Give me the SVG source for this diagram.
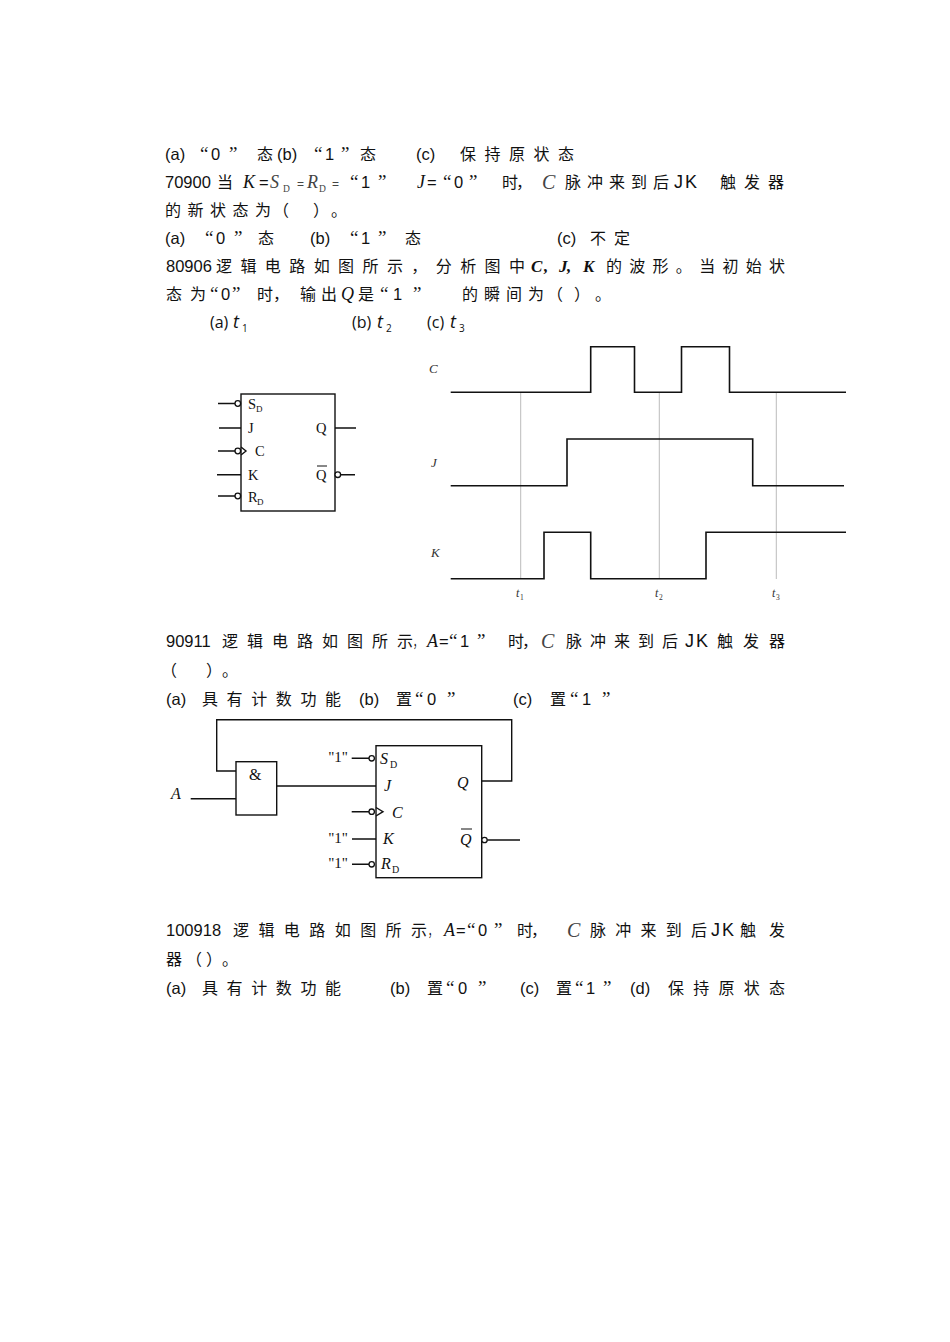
<svg xmlns="http://www.w3.org/2000/svg" width="950" height="1342" viewBox="0 0 950 1342">
<style>
.t{font-family:"Liberation Sans","Noto Sans CJK SC",sans-serif;font-size:16.5px;fill:#111}
.qq{font-family:"Liberation Serif",serif;font-size:19px}
.c{font-family:"Noto Sans CJK SC","Liberation Sans",sans-serif;font-size:16px;fill:#111}
.v{font-family:"Liberation Serif","Noto Sans CJK SC",serif;font-style:italic;font-size:18px;fill:#111}
.g{fill:#444}
.sub{font-family:"Liberation Serif",serif;font-size:9.5px;fill:#444}
.o{font-family:"Open Sans","Liberation Sans",sans-serif;font-size:16px;fill:#111}
.ot{font-family:"Open Sans","Liberation Sans",sans-serif;font-style:italic;font-size:18px;fill:#111}
.os{font-family:"Open Sans","Liberation Sans",sans-serif;font-size:10px;fill:#111}
.lab{font-family:"Liberation Serif",serif;font-size:14.5px;fill:#111}
.lab2{font-family:"Liberation Serif",serif;font-style:italic;font-size:16px;fill:#111}
.ls{font-family:"Liberation Serif",serif;font-size:9px;fill:#111}
.wl{font-family:"Liberation Serif",serif;font-style:italic;font-size:13px;fill:#333}
.tl{font-family:"Liberation Serif",serif;font-style:italic;font-size:12px;fill:#333}
.tls{font-family:"Liberation Serif",serif;font-size:7.5px;fill:#333}
.ln{fill:none;stroke:#111;stroke-width:1.4}
.wave{fill:none;stroke:#111;stroke-width:1.6}
.grid{fill:none;stroke:#aaa;stroke-width:0.8}
.bub{fill:#fff;stroke:#111;stroke-width:1.3}
</style>

<g id="text">
<!-- line 1 -->
<text class="t" x="165" y="160">(a)</text>
<text class="t" y="160"><tspan class="qq" x="200">“</tspan><tspan x="211">0</tspan><tspan class="qq" x="229">”</tspan></text>
<text class="c" x="257" y="160">态</text>
<text class="t" x="277" y="160">(b)</text>
<text class="t" y="160"><tspan class="qq" x="314">“</tspan><tspan x="325">1</tspan><tspan class="qq" x="341">”</tspan></text>
<text class="c" x="360" y="160">态</text>
<text class="t" x="416" y="160">(c)</text>
<text class="c" x="460" y="160" textLength="114" lengthAdjust="spacing">保持原状态</text>
<!-- line 2 -->
<text class="t" x="165" y="188">70900</text>
<text class="c" x="217" y="188">当</text>
<text class="v" x="243" y="188">K</text>
<text class="t" x="259" y="188">=</text>
<text class="v g" x="270" y="188">S</text>
<text class="sub" x="283" y="192">D</text>
<text class="t g" x="297" y="188" style="font-size:12px">=</text>
<text class="v g" x="307" y="188">R</text>
<text class="sub" x="319" y="192">D</text>
<text class="t g" x="332" y="188" style="font-size:12px">=</text>
<text class="t" y="188"><tspan class="qq" x="350">“</tspan><tspan x="361">1</tspan><tspan class="qq" x="378">”</tspan></text>
<text class="v" x="417" y="188">J</text>
<text class="t" x="427" y="188">=</text>
<text class="t" y="188"><tspan class="qq" x="443">“</tspan><tspan x="454">0</tspan><tspan class="qq" x="469">”</tspan></text>
<text class="c" x="502" y="188" textLength="30" lengthAdjust="spacing">时，</text>
<text class="v g" x="542" y="189" style="font-size:20px">C</text>
<text class="c" x="565" y="188" textLength="104" lengthAdjust="spacing">脉冲来到后</text>
<text class="t" x="674 685" y="188" style="font-size:18px">JK</text>
<text class="c" x="720" y="188" textLength="64" lengthAdjust="spacing">触发器</text>
<!-- line 3 -->
<text class="c" x="165" y="216" textLength="106" lengthAdjust="spacing">的新状态为</text>
<text class="c" x="273" y="216">（</text>
<text class="c" x="313" y="216">）</text>
<text class="c" x="331" y="216">。</text>
<!-- line 4 -->
<text class="t" x="165" y="244">(a)</text>
<text class="t" y="244"><tspan class="qq" x="205">“</tspan><tspan x="216">0</tspan><tspan class="qq" x="234">”</tspan></text>
<text class="c" x="258" y="244">态</text>
<text class="t" x="310" y="244">(b)</text>
<text class="t" y="244"><tspan class="qq" x="350">“</tspan><tspan x="361">1</tspan><tspan class="qq" x="378">”</tspan></text>
<text class="c" x="405" y="244">态</text>
<text class="t" x="557" y="244">(c)</text>
<text class="c" x="590" y="244" textLength="40" lengthAdjust="spacing">不定</text>
<!-- line 5 -->
<text class="t" x="166" y="272">80906</text>
<text class="c" x="216" y="272" textLength="309" lengthAdjust="spacing">逻辑电路如图所示，分析图中</text>
<text class="v" x="531 544 559 567 583" y="272" style="font-weight:bold;font-size:17px">C,J,K</text>
<text class="c" x="606" y="272" textLength="179" lengthAdjust="spacing">的波形。当初始状</text>
<!-- line 6 -->
<text class="c" x="166" y="300" textLength="40" lengthAdjust="spacing">态为</text>
<text class="t" y="300"><tspan class="qq" x="210">“</tspan><tspan x="221">0</tspan><tspan class="qq" x="232">”</tspan></text>
<text class="c" x="257" y="300" textLength="32" lengthAdjust="spacing">时，</text>
<text class="c" x="300" y="300" textLength="37" lengthAdjust="spacing">输出</text>
<text class="v" x="341" y="300">Q</text>
<text class="c" x="358" y="300">是</text>
<text class="t" y="300"><tspan class="qq" x="380">“</tspan><tspan x="393">1</tspan><tspan class="qq" x="413">”</tspan></text>
<text class="c" x="462" y="300" textLength="82" lengthAdjust="spacing">的瞬间为</text>
<text class="c" x="547" y="300">（</text>
<text class="c" x="574" y="300">）</text>
<text class="c" x="595" y="300">。</text>
<!-- line 7 -->
<text class="o" x="210" y="328">(a)</text>
<text class="ot" x="233" y="328">t</text>
<text class="os" x="242" y="332">1</text>
<text class="o" x="352" y="328">(b)</text>
<text class="ot" x="377" y="328">t</text>
<text class="os" x="386" y="332">2</text>
<text class="o" x="427" y="328">(c)</text>
<text class="ot" x="450" y="328">t</text>
<text class="os" x="459" y="332">3</text>
<!-- line 8 -->
<text class="t" x="166" y="647">90911</text>
<text class="c" x="222" y="647" textLength="191" lengthAdjust="spacing">逻辑电路如图所示</text>
<text class="c" x="413" y="647" textLength="9" lengthAdjust="spacingAndGlyphs">，</text>
<text class="v" x="427" y="647">A</text>
<text class="t" x="439" y="647">=</text>
<text class="t" y="647"><tspan class="qq" x="449">“</tspan><tspan x="460">1</tspan><tspan class="qq" x="477">”</tspan></text>
<text class="c" x="508" y="647" textLength="30" lengthAdjust="spacing">时，</text>
<text class="v g" x="541" y="648" style="font-size:20px">C</text>
<text class="c" x="566" y="647" textLength="112" lengthAdjust="spacing">脉冲来到后</text>
<text class="t" x="685 696" y="647" style="font-size:18px">JK</text>
<text class="c" x="717" y="647" textLength="68" lengthAdjust="spacing">触发器</text>
<!-- line 9 -->
<text class="c" x="161" y="676">（</text>
<text class="c" x="206" y="676">）</text>
<text class="c" x="222" y="676">。</text>
<!-- line 10 -->
<text class="t" x="166" y="705">(a)</text>
<text class="c" x="202" y="705" textLength="139" lengthAdjust="spacing">具有计数功能</text>
<text class="t" x="359" y="705">(b)</text>
<text class="c" x="396" y="705">置</text>
<text class="t" y="705"><tspan class="qq" x="415">“</tspan><tspan x="427">0</tspan><tspan class="qq" x="447">”</tspan></text>
<text class="t" x="513" y="705">(c)</text>
<text class="c" x="550" y="705">置</text>
<text class="t" y="705"><tspan class="qq" x="570">“</tspan><tspan x="582">1</tspan><tspan class="qq" x="602">”</tspan></text>
<!-- line 11 -->
<text class="t" x="166" y="936">100918</text>
<text class="c" x="233" y="936" textLength="194" lengthAdjust="spacing">逻辑电路如图所示</text>
<text class="c" x="428" y="936" textLength="9" lengthAdjust="spacingAndGlyphs">，</text>
<text class="v" x="444" y="936">A</text>
<text class="t" x="456" y="936">=</text>
<text class="t" y="936"><tspan class="qq" x="467">“</tspan><tspan x="478">0</tspan><tspan class="qq" x="494">”</tspan></text>
<text class="c" x="517" y="936" textLength="30" lengthAdjust="spacing">时，</text>
<text class="v g" x="567" y="937" style="font-size:20px">C</text>
<text class="c" x="590" y="936" textLength="117" lengthAdjust="spacing">脉冲来到后</text>
<text class="t" x="711 722" y="936" style="font-size:18px">JK</text>
<text class="c" x="740" y="936" textLength="45" lengthAdjust="spacing">触发</text>
<!-- line 12 -->
<text class="c" x="166" y="965">器</text>
<text class="c" x="186" y="965">（</text>
<text class="c" x="206" y="965">）</text>
<text class="c" x="222" y="965">。</text>
<!-- line 13 -->
<text class="t" x="166" y="994">(a)</text>
<text class="c" x="202" y="994" textLength="139" lengthAdjust="spacing">具有计数功能</text>
<text class="t" x="390" y="994">(b)</text>
<text class="c" x="427" y="994">置</text>
<text class="t" y="994"><tspan class="qq" x="446">“</tspan><tspan x="458">0</tspan><tspan class="qq" x="478">”</tspan></text>
<text class="t" x="520" y="994">(c)</text>
<text class="c" x="556" y="994">置</text>
<text class="t" y="994"><tspan class="qq" x="575">“</tspan><tspan x="586">1</tspan><tspan class="qq" x="603">”</tspan></text>
<text class="t" x="630" y="994">(d)</text>
<text class="c" x="668" y="994" textLength="117" lengthAdjust="spacing">保持原状态</text>
</g>

<g id="ff1">
<rect class="ln" x="241" y="394" width="94" height="117"/>
<text class="lab" x="248" y="409">S</text><text class="ls" x="256" y="412">D</text>
<text class="lab" x="248" y="433">J</text>
<text class="lab" x="255" y="456">C</text>
<text class="lab" x="248" y="480">K</text>
<text class="lab" x="248" y="502">R</text><text class="ls" x="257" y="505">D</text>
<text class="lab" x="316" y="433">Q</text>
<text class="lab" x="316" y="480">Q</text>
<line class="ln" x1="317" y1="466" x2="327" y2="466" style="stroke-width:1"/>
</g>

<g id="waveforms">
<text class="wl" x="429" y="373">C</text>
<text class="wl" x="431" y="467">J</text>
<text class="wl" x="431" y="557">K</text>
<text class="tl" x="516" y="597">t</text><text class="tls" x="520" y="600">1</text>
<text class="tl" x="655" y="597">t</text><text class="tls" x="659" y="600">2</text>
<text class="tl" x="772" y="597">t</text><text class="tls" x="776" y="600">3</text>
<path class="grid" d="M520.7,392.3V579M659.3,392.3V579M776.3,392.3V579"/>
<path class="wave" d="M450.7,392.3H590.7V346.7H634.5V392.3H681.5V346.7H729.5V392.3H846"/>
<path class="wave" d="M450.7,485.7H567V439H752.7V485.7H844"/>
<path class="wave" d="M450.7,578.7H544V532.3H590.7V578.7H706V532.3H846"/>
</g>

<g id="gate">
<rect class="ln" x="236" y="761.7" width="40.7" height="53.3"/>
<text class="lab" x="249" y="780" style="font-size:16px">&amp;</text>
<text class="lab2" x="171" y="799">A</text>
</g>

<g id="ff2">
<rect class="ln" x="376" y="745.7" width="105.7" height="132"/>
<text class="lab2" x="380" y="764">S</text><text class="ls" x="390" y="768" style="font-size:10px">D</text>
<text class="lab2" x="384" y="791">J</text>
<text class="lab2" x="457" y="788">Q</text>
<text class="lab2" x="392" y="818">C</text>
<text class="lab2" x="383" y="844">K</text>
<text class="lab2" x="460" y="845">Q</text>
<line class="ln" x1="461" y1="829" x2="472" y2="829" style="stroke-width:1"/>
<text class="lab2" x="381" y="869">R</text><text class="ls" x="392" y="873" style="font-size:10px">D</text>
<text class="lab" x="348" y="762" text-anchor="end" style="font-size:15px">"1"</text>
<text class="lab" x="348" y="843" text-anchor="end" style="font-size:15px">"1"</text>
<text class="lab" x="348" y="868" text-anchor="end" style="font-size:15px">"1"</text>
</g>

<g id="connectors">
<path class="ln" d="M218,403.5H235M219,428H241M218,451H235M217,474.7H241M218,496H235M335,428H356M340.6,474.7H355"/>
<circle class="bub" cx="237.8" cy="403.5" r="2.8"/>
<circle class="bub" cx="237.8" cy="451" r="2.8"/>
<circle class="bub" cx="237.8" cy="496" r="2.8"/>
<circle class="bub" cx="337.8" cy="474.7" r="2.8"/>
<polyline class="ln" points="241,447 246,451 241,455"/>
<path class="ln" d="M236,771H216.7V719.7H511.7V781H482"/>
<path class="ln" d="M190.7,798.7H236M276.7,786H376"/>
<path class="ln" d="M351.7,758.3H369M351.7,811.7H369M352,839H376M352,864.3H369M487.2,840H520"/>
<circle class="bub" cx="371.7" cy="758.3" r="2.7"/>
<circle class="bub" cx="371.7" cy="811.7" r="2.7"/>
<circle class="bub" cx="371.7" cy="864.3" r="2.7"/>
<circle class="bub" cx="484.5" cy="840" r="2.7"/>
<polyline class="ln" points="376,807.5 383,811.7 376,816"/>
</g>
</svg>
